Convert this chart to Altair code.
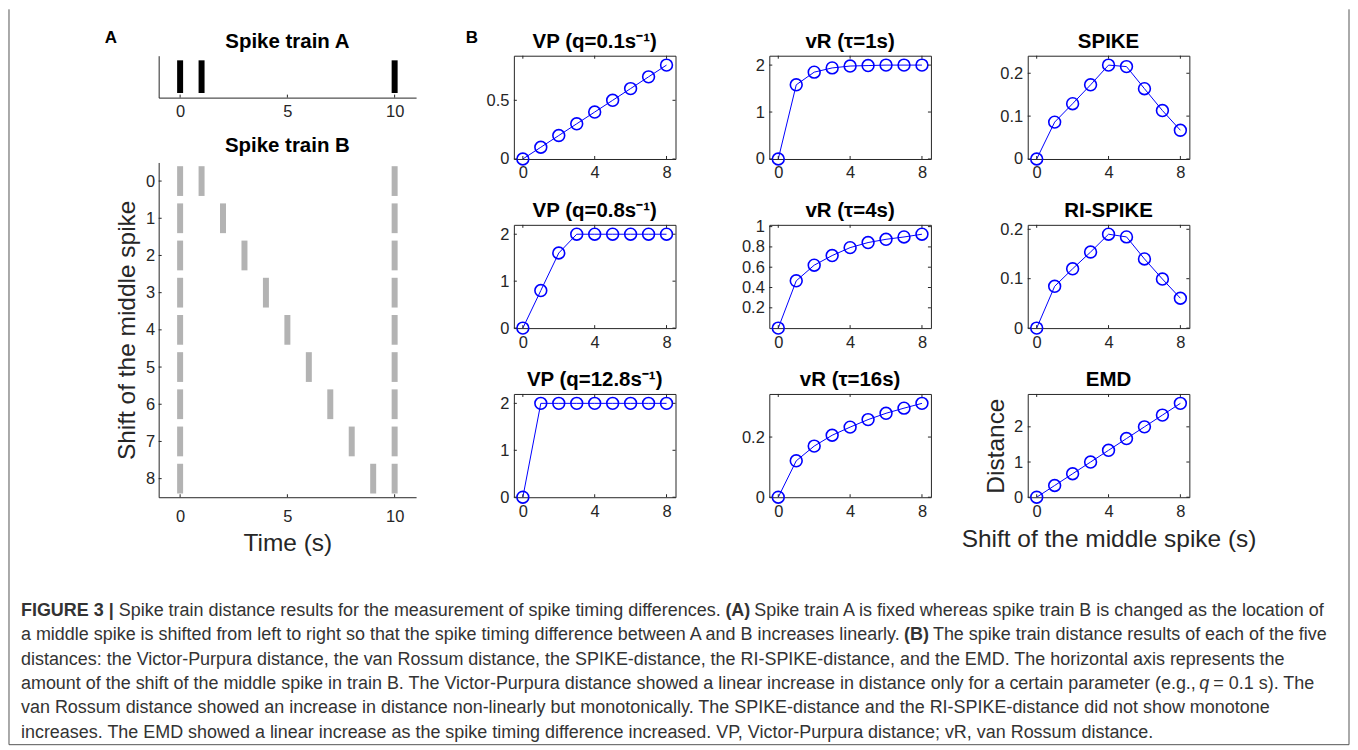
import altair as alt
import pandas as pd

FONT = "Liberation Sans"
AX = "#262626"
BLUE = "#0000ff"

# ---------------- data ----------------
shift = [0, 1, 2, 3, 4, 5, 6, 7, 8]
train_a = [0, 1, 10]
train_b_fixed = [0, 10]
train_b_middle = [1, 2, 3, 4, 5, 6, 7, 8, 9]
time_ticks = [0, 5, 10]
shift_ticks = [0, 4, 8]

vp_01 = [0, 0.1, 0.2, 0.3, 0.4, 0.5, 0.6, 0.7, 0.8]
vp_08 = [0, 0.8, 1.6, 2, 2, 2, 2, 2, 2]
vp_128 = [0, 2, 2, 2, 2, 2, 2, 2, 2]
vr_1 = [0, 1.58, 1.85, 1.94, 1.98, 1.99, 2.0, 2.0, 2.0]
vr_4 = [0, 0.466, 0.62, 0.715, 0.793, 0.843, 0.875, 0.898, 0.925]
vr_16 = [0, 0.121, 0.17, 0.206, 0.233, 0.258, 0.279, 0.296, 0.312]
spike = [0, 0.086, 0.129, 0.173, 0.219, 0.2155, 0.164, 0.113, 0.067]
ri_spike = [0, 0.0846, 0.120, 0.154, 0.190, 0.1846, 0.140, 0.0993, 0.0604]
emd = [0, 0.333, 0.667, 1.0, 1.333, 1.667, 2.0, 2.333, 2.667]

cap_text = [
    "FIGURE 3 |",
    "Spike train distance results for the measurement of spike timing differences.",
    "(A)",
    "Spike train A is fixed whereas spike train B is changed as the location of",
    "a middle spike is shifted from left to right so that the spike timing difference between A and B increases linearly.",
    "(B)",
    "The spike train distance results of each of the five",
    "distances: the Victor-Purpura distance, the van Rossum distance, the SPIKE-distance, the RI-SPIKE-distance, and the EMD. The horizontal axis represents the",
    "amount of the shift of the middle spike in train B. The Victor-Purpura distance showed a linear increase in distance only for a certain parameter (e.g.,",
    "q",
    "= 0.1 s). The",
    "van Rossum distance showed an increase in distance non-linearly but monotonically. The SPIKE-distance and the RI-SPIKE-distance did not show monotone",
    "increases. The EMD showed a linear increase as the spike timing difference increased. VP, Victor-Purpura distance; vR, van Rossum distance.",
]
cap_line = [0, 0, 0, 0, 1, 1, 1, 2, 3, 3, 3, 4, 5]
cap_style = ["bold", "normal", "bold", "normal", "normal", "bold", "normal",
             "normal", "normal", "italic", "normal", "normal", "normal"]
cap_x = [12, 110, 718, 747, 12, 897, 926, 12, 12, 1193, 1207, 12, 12]

TICK = 3
A_W, A_H1, A_H2 = 258, 42, 335.5
B_W, B_H = 162, 103.5


def text_layer(label, x, y, size, align="center"):
    return alt.Chart(pd.DataFrame({"lab": [label]})).mark_text(
        font=FONT, fontSize=size, fontWeight="bold", color="black", align=align, baseline="alphabetic"
    ).encode(x=alt.value(x), y=alt.value(y), text="lab:N")


# ---------------- panel A ----------------
xA_scale = alt.Scale(domain=[-1, 11], nice=False, zero=False)
xA1 = alt.X("t:Q", scale=xA_scale,
            axis=alt.Axis(values=time_ticks, title=None, ticks=False, grid=False, domain=True, labelPadding=6))
yA1 = alt.YDatum(0.11, scale=alt.Scale(domain=[0, 1], nice=False, zero=False),
                 axis=alt.Axis(labels=False, ticks=False, grid=False, domain=True, title=None))
spikeA_rules = alt.Chart(pd.DataFrame({"t": train_a})).mark_rule(
    color="black", strokeWidth=6, strokeCap="butt").encode(x=xA1, y=yA1, y2=alt.Y2Datum(0.89))
spikeA_ticks = alt.Chart(pd.DataFrame({"t": time_ticks})).mark_rule(color=AX, strokeWidth=1).encode(
    x=xA1, y=alt.value(A_H1), y2=alt.value(A_H1 - TICK))
spikeA = alt.layer(
    spikeA_rules, spikeA_ticks,
    text_layer("Spike train A", A_W / 2, -8, 20.5),
    text_layer("A", -48, -12.5, 17),
).properties(width=A_W, height=A_H1)

rowsB = []
for k, m in zip(shift, train_b_middle):
    for t in [train_b_fixed[0], m, train_b_fixed[1]]:
        rowsB.append({"row": k, "t": t})
dfB = pd.DataFrame(rowsB)
xA2 = alt.X("t:Q", scale=xA_scale,
            axis=alt.Axis(values=time_ticks, title="Time (s)", ticks=False, grid=False,
                          labelPadding=11, titlePadding=6.5))
yA2 = alt.Y("lo:Q", scale=alt.Scale(domain=[-0.5, 8.5], nice=False, zero=False, reverse=True),
            axis=alt.Axis(values=shift, title="Shift of the middle spike", ticks=False,
                          grid=False, labelPadding=4, titlePadding=6))
spikeB_rules = alt.Chart(dfB).mark_rule(color="#b3b3b3", strokeWidth=6, strokeCap="butt").transform_calculate(
    lo="datum.row - 0.4", hi="datum.row + 0.4"
).encode(x=xA2, y=yA2, y2="hi:Q")
spikeB_xt = alt.Chart(pd.DataFrame({"t": time_ticks})).mark_rule(color=AX, strokeWidth=1).encode(
    x=xA2, y=alt.value(A_H2), y2=alt.value(A_H2 - TICK))
spikeB_yt = alt.Chart(pd.DataFrame({"lo": shift})).mark_rule(color=AX, strokeWidth=1).encode(
    y=yA2, x=alt.value(0), x2=alt.value(TICK))
spikeB = alt.layer(
    spikeB_rules, spikeB_xt, spikeB_yt,
    text_layer("Spike train B", A_W / 2, -11, 20.5),
).properties(width=A_W, height=A_H2)

colA = alt.vconcat(spikeA, spikeB, spacing=65, bounds="flush")


# ---------------- panel B ----------------
def bpanel(title, vals, yticks, xtitle=None, ytitle=None, tag=None):
    df = pd.DataFrame({"shift": shift, "d": vals})
    ymax = 1.1 * max(vals)
    xaxis = dict(values=shift_ticks, format="d", ticks=False, domain=False, grid=False, labelPadding=6)
    if xtitle:
        xaxis.update(title=xtitle, titlePadding=8)
    else:
        xaxis.update(title=None)
    yaxis = dict(values=yticks, format="~g", ticks=False, domain=False, grid=False, labelPadding=5)
    if ytitle:
        yaxis.update(title=ytitle, titlePadding=5)
    else:
        yaxis.update(title=None)
    x = alt.X("shift:Q", scale=alt.Scale(domain=[-0.5, 8.5], nice=False, zero=False),
              axis=alt.Axis(**xaxis))
    y = alt.Y("d:Q", scale=alt.Scale(domain=[0, ymax], nice=False, zero=False),
              axis=alt.Axis(**yaxis))
    base = alt.Chart(df)
    line = base.mark_line(color=BLUE, strokeWidth=1).encode(x=x, y=y)
    pts = base.mark_point(shape="circle", filled=False, color=BLUE, size=140,
                          strokeWidth=1.6, opacity=1).encode(x=x, y=y)
    xt = alt.Chart(pd.DataFrame({"shift": shift_ticks}))
    yt = alt.Chart(pd.DataFrame({"d": yticks}))
    ticks = [
        xt.mark_rule(color=AX, strokeWidth=1).encode(x=x, y=alt.value(B_H), y2=alt.value(B_H - TICK)),
        xt.mark_rule(color=AX, strokeWidth=1).encode(x=x, y=alt.value(0), y2=alt.value(TICK)),
        yt.mark_rule(color=AX, strokeWidth=1).encode(y=y, x=alt.value(0), x2=alt.value(TICK)),
        yt.mark_rule(color=AX, strokeWidth=1).encode(y=y, x=alt.value(B_W), x2=alt.value(B_W - TICK)),
    ]
    layers = [line, pts] + ticks + [text_layer(title, B_W / 2, -8, 20.5)]
    if tag:
        layers.append(text_layer(tag, -42, -12.5, 17))
    return alt.layer(*layers).properties(
        width=B_W, height=B_H, view=alt.ViewBackground(stroke=AX, strokeWidth=1))


col1 = alt.vconcat(
    bpanel("VP (q=0.1s\u207b\u00b9)", vp_01, [0, 0.5], tag="B"),
    bpanel("VP (q=0.8s\u207b\u00b9)", vp_08, [0, 1, 2]),
    bpanel("VP (q=12.8s\u207b\u00b9)", vp_128, [0, 1, 2]),
    spacing=65.5, bounds="flush")
col2 = alt.vconcat(
    bpanel("vR (\u03c4=1s)", vr_1, [0, 1, 2]),
    bpanel("vR (\u03c4=4s)", vr_4, [0.2, 0.4, 0.6, 0.8, 1]),
    bpanel("vR (\u03c4=16s)", vr_16, [0, 0.2]),
    spacing=65.5, bounds="flush")
col3 = alt.vconcat(
    bpanel("SPIKE", spike, [0, 0.1, 0.2]),
    bpanel("RI-SPIKE", ri_spike, [0, 0.1, 0.2]),
    bpanel("EMD", emd, [0, 1, 2], xtitle="Shift of the middle spike (s)", ytitle="Distance"),
    spacing=65.5, bounds="flush")


def spacer(w):
    return alt.Chart(pd.DataFrame({"a": [0]})).mark_point(opacity=0, size=1).properties(width=w, height=1)


top = alt.hconcat(spacer(95), colA, spacer(48.3), col1, spacer(63.6), col2, spacer(28), col3, spacing=0)

# ---------------- caption ----------------
CAP_W, CAP_H, FRAME_TOP = 1343, 155, 582
cap_df = pd.DataFrame({"text": cap_text, "line": cap_line, "px": cap_x, "style": cap_style})
cx = alt.X("px:Q", scale=None, axis=None)
cy = alt.Y("line:Q", scale=alt.Scale(domain=[-0.875, 5.5], reverse=True, nice=False, zero=False), axis=None)
cap_layers = []
for sty in ["normal", "bold", "italic"]:
    cap_layers.append(
        alt.Chart(cap_df).transform_filter(alt.datum.style == sty).mark_text(
            font=FONT, fontSize=18, color="#333333", align="left", baseline="middle",
            fontWeight="bold" if sty == "bold" else "normal",
            fontStyle="italic" if sty == "italic" else "normal",
        ).encode(x=cx, y=cy, text="text:N")
    )
fdf = pd.DataFrame({"a": [0]})
fc = "#555555"
cap_layers.append(alt.Chart(fdf).mark_rule(color=fc, strokeWidth=1).encode(
    x=alt.value(0), y=alt.value(-FRAME_TOP), y2=alt.value(CAP_H)))
cap_layers.append(alt.Chart(fdf).mark_rule(color=fc, strokeWidth=1).encode(
    x=alt.value(CAP_W), y=alt.value(-FRAME_TOP), y2=alt.value(CAP_H)))
cap_layers.append(alt.Chart(fdf).mark_rule(color=fc, strokeWidth=1).encode(
    x=alt.value(0), x2=alt.value(CAP_W), y=alt.value(CAP_H)))
caption = alt.layer(*cap_layers).properties(width=CAP_W, height=CAP_H)

chart = alt.vconcat(top, caption, spacing=-547.5).properties(padding=0).configure(
    font=FONT
).configure_view(stroke=None).configure_axis(
    labelFont=FONT, labelFontSize=16.5, labelColor=AX, titleFont=FONT, titleFontSize=24.5,
    titleFontWeight="normal", titleColor=AX, domainColor=AX, domainWidth=1, grid=False
)

chart.save("out.html", embed_options={"renderer": "svg", "actions": False})
